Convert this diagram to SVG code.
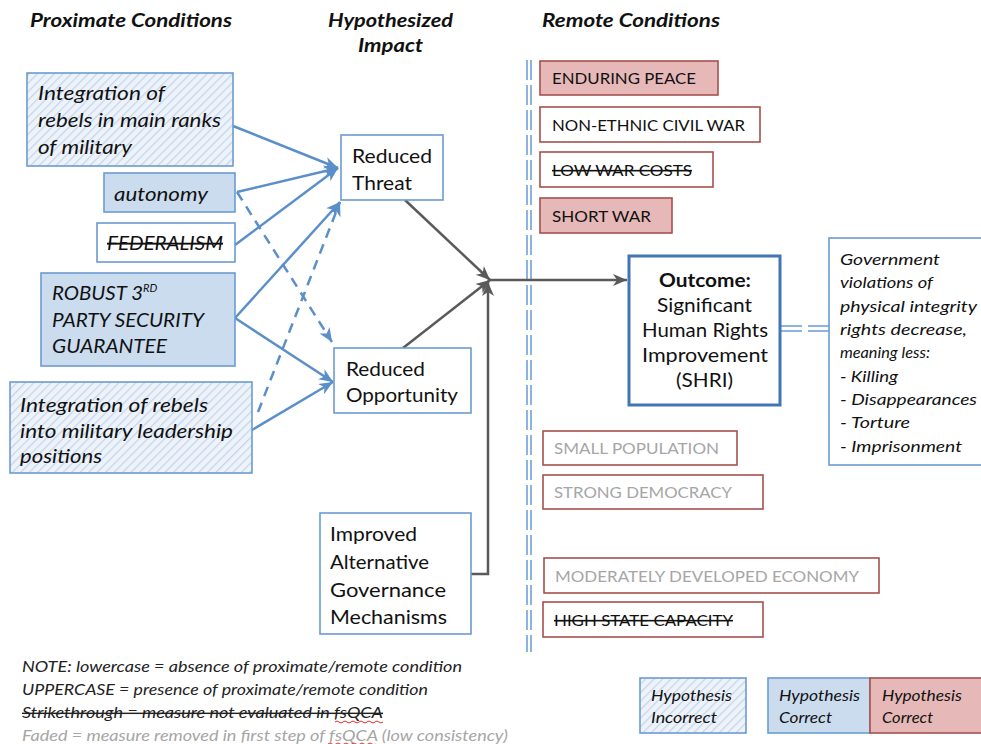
<svg xmlns="http://www.w3.org/2000/svg" width="981" height="744" viewBox="0 0 981 744">
<style>
text{font-family:Lato,"Open Sans","Liberation Sans",sans-serif;fill:#111}
.h{font-size:18px;font-weight:bold;font-style:italic}
.bi{font-size:19px;font-style:italic}
.br{font-size:19px}
.rm{font-size:16px}
.ri{font-size:16px;font-style:italic}
.nt{font-size:14.5px;font-style:italic;fill:#222}
.fd{fill:#a6a6a6}
.st{text-decoration:line-through}
.bx{stroke:#6b9bd0;stroke-width:1.6}
.pk{fill:#e6b9b8;stroke:#a5504d;stroke-width:1.6}
.pw{fill:#fff;stroke:#a5504d;stroke-width:1.6}
.bl{stroke:#5b8fca;stroke-width:2.5;fill:none}
.bd{stroke:#5b8fca;stroke-width:2.5;fill:none;stroke-dasharray:10 7}
.gl{stroke:#5a5a5a;stroke-width:2.5;fill:none}
.dv{stroke:#8db3e2;stroke-width:2;fill:none;stroke-dasharray:20 5}
</style>
<defs>
<pattern id="hatch" width="6" height="6" patternUnits="userSpaceOnUse" patternTransform="rotate(45)">
<rect width="6" height="6" fill="#eef3fa"/>
<line x1="0" y1="0" x2="0" y2="6" stroke="#c3d5ec" stroke-width="2.5"/>
</pattern>
<marker id="ab" markerUnits="userSpaceOnUse" markerWidth="16" markerHeight="14" refX="14" refY="7" orient="auto">
<path d="M0,1 L14,7 L0,13 L4,7 z" fill="#5b8fca"/>
</marker>
<marker id="ag" markerUnits="userSpaceOnUse" markerWidth="16" markerHeight="14" refX="14" refY="7" orient="auto">
<path d="M0,1 L14,7 L0,13 L4,7 z" fill="#5a5a5a"/>
</marker>
</defs>
<rect width="981" height="744" fill="#fff"/>

<g id="headings">
<text class="h" x="30" y="27" textLength="202" lengthAdjust="spacingAndGlyphs">Proximate Conditions</text>
<text class="h" x="328" y="27" textLength="125" lengthAdjust="spacingAndGlyphs">Hypothesized</text>
<text class="h" x="358" y="52" textLength="65" lengthAdjust="spacingAndGlyphs">Impact</text>
<text class="h" x="542" y="27" textLength="178" lengthAdjust="spacingAndGlyphs">Remote Conditions</text>
</g>

<g id="connectors">
<path class="dv" d="M527,60 V652 M531,60 V652"/>
<path class="dv" d="M780,326 H830 M780,331 H830" style="stroke-dasharray:22 6"/>
<path class="bl" d="M233,126 L338,168" marker-end="url(#ab)"/>
<path class="bl" d="M237,192 L338,168" marker-end="url(#ab)"/>
<path class="bl" d="M235,245 L338,168" marker-end="url(#ab)"/>
<path class="bl" d="M235,318 L340,202" marker-end="url(#ab)"/>
<path class="bl" d="M235,318 L333,382" marker-end="url(#ab)"/>
<path class="bl" d="M252,430 L333,382" marker-end="url(#ab)"/>
<path class="bd" d="M237,192 L332,342" marker-end="url(#ab)"/>
<path class="bd" d="M258,412 L340,202" marker-end="url(#ab)"/>
<path class="gl" d="M405,200 L490,280" marker-end="url(#ag)"/>
<path class="gl" d="M403,348 L490,280" marker-end="url(#ag)"/>
<path class="gl" d="M471,574 H488 V282" marker-end="url(#ag)"/>
<path class="gl" d="M488,280 H627" marker-end="url(#ag)"/>
</g>

<g id="int1">
<rect class="bx" x="27" y="73" width="206" height="93" fill="url(#hatch)"/>
<text class="bi" x="38" y="100" textLength="127" lengthAdjust="spacingAndGlyphs">Integration of</text>
<text class="bi" x="38" y="127" textLength="183" lengthAdjust="spacingAndGlyphs">rebels in main ranks</text>
<text class="bi" x="38" y="154" textLength="94" lengthAdjust="spacingAndGlyphs">of military</text>
</g>
<g id="autonomy">
<rect class="bx" x="104" y="173" width="131" height="39" fill="#cbdcef"/>
<text class="bi" x="114" y="201" textLength="94" lengthAdjust="spacingAndGlyphs">autonomy</text>
</g>
<g id="federalism">
<rect class="bx" x="97" y="223" width="138" height="39" fill="#fff"/>
<text class="bi st" x="107" y="250" textLength="116" lengthAdjust="spacingAndGlyphs">FEDERALISM</text>
</g>
<g id="robust">
<rect class="bx" x="41" y="273" width="194" height="93" fill="#cbdcef"/>
<text class="bi" x="52" y="300"><tspan textLength="91" lengthAdjust="spacingAndGlyphs">ROBUST 3</tspan><tspan font-size="11" dy="-8">RD</tspan></text>
<text class="bi" x="52" y="327" textLength="152" lengthAdjust="spacingAndGlyphs">PARTY SECURITY</text>
<text class="bi" x="52" y="353" textLength="115" lengthAdjust="spacingAndGlyphs">GUARANTEE</text>
</g>
<g id="int2">
<rect class="bx" x="10" y="382" width="242" height="91" fill="url(#hatch)"/>
<text class="bi" x="20" y="412" textLength="188" lengthAdjust="spacingAndGlyphs">Integration of rebels</text>
<text class="bi" x="20" y="438" textLength="213" lengthAdjust="spacingAndGlyphs">into military leadership</text>
<text class="bi" x="20" y="463" textLength="82" lengthAdjust="spacingAndGlyphs">positions</text>
</g>

<g id="threat">
<rect class="bx" x="341" y="135" width="102" height="65" fill="#fff"/>
<text class="br" x="352" y="163" textLength="80" lengthAdjust="spacingAndGlyphs">Reduced</text>
<text class="br" x="352" y="190" textLength="60" lengthAdjust="spacingAndGlyphs">Threat</text>
</g>
<g id="opportunity">
<rect class="bx" x="334" y="348" width="137" height="65" fill="#fff"/>
<text class="br" x="346" y="376" textLength="79" lengthAdjust="spacingAndGlyphs">Reduced</text>
<text class="br" x="346" y="402" textLength="112" lengthAdjust="spacingAndGlyphs">Opportunity</text>
</g>
<g id="improved">
<rect class="bx" x="320" y="513" width="151" height="121" fill="#fff"/>
<text class="br" x="330" y="541" textLength="87" lengthAdjust="spacingAndGlyphs">Improved</text>
<text class="br" x="330" y="569" textLength="99" lengthAdjust="spacingAndGlyphs">Alternative</text>
<text class="br" x="330" y="597" textLength="116" lengthAdjust="spacingAndGlyphs">Governance</text>
<text class="br" x="330" y="624" textLength="117" lengthAdjust="spacingAndGlyphs">Mechanisms</text>
</g>

<g id="outcome">
<rect x="629" y="256" width="151" height="149" fill="#fff" stroke="#4275b4" stroke-width="3"/>
<text class="br" x="659" y="287" font-weight="bold" textLength="92" lengthAdjust="spacingAndGlyphs">Outcome:</text>
<text class="br" x="657" y="312" textLength="95" lengthAdjust="spacingAndGlyphs">Significant</text>
<text class="br" x="642" y="337" textLength="126" lengthAdjust="spacingAndGlyphs">Human Rights</text>
<text class="br" x="642" y="362" textLength="126" lengthAdjust="spacingAndGlyphs">Improvement</text>
<text class="br" x="676" y="387" textLength="57" lengthAdjust="spacingAndGlyphs">(SHRI)</text>
</g>
<g id="definition">
<rect class="bx" x="829" y="238" width="160" height="227" fill="#fff"/>
<text class="ri" x="840" y="265" textLength="100" lengthAdjust="spacingAndGlyphs">Government</text>
<text class="ri" x="840" y="288" textLength="93" lengthAdjust="spacingAndGlyphs">violations of</text>
<text class="ri" x="840" y="312" textLength="137" lengthAdjust="spacingAndGlyphs">physical integrity</text>
<text class="ri" x="840" y="335" textLength="127" lengthAdjust="spacingAndGlyphs">rights decrease,</text>
<text class="ri" x="840" y="358" textLength="90" lengthAdjust="spacingAndGlyphs">meaning less:</text>
<text class="ri" x="840" y="382" textLength="58" lengthAdjust="spacingAndGlyphs">- Killing</text>
<text class="ri" x="840" y="405" textLength="137" lengthAdjust="spacingAndGlyphs">- Disappearances</text>
<text class="ri" x="840" y="428" textLength="70" lengthAdjust="spacingAndGlyphs">- Torture</text>
<text class="ri" x="840" y="452" textLength="122" lengthAdjust="spacingAndGlyphs">- Imprisonment</text>
</g>

<g id="enduring-peace">
<rect class="pk" x="540" y="61" width="178" height="34"/>
<text class="rm" x="552" y="84" textLength="144" lengthAdjust="spacingAndGlyphs">ENDURING PEACE</text>
</g>
<g id="non-ethnic">
<rect class="pw" x="540" y="107" width="220" height="35"/>
<text class="rm" x="552" y="131" textLength="193" lengthAdjust="spacingAndGlyphs">NON-ETHNIC CIVIL WAR</text>
</g>
<g id="low-war-costs">
<rect class="pw" x="540" y="152" width="173" height="35"/>
<text class="rm st" x="552" y="176" textLength="140" lengthAdjust="spacingAndGlyphs">LOW WAR COSTS</text>
</g>
<g id="short-war">
<rect class="pk" x="540" y="198" width="132" height="35"/>
<text class="rm" x="552" y="222" textLength="99" lengthAdjust="spacingAndGlyphs">SHORT WAR</text>
</g>
<g id="small-population">
<rect class="pw" x="543" y="431" width="194" height="34"/>
<text class="rm fd" x="554" y="454" textLength="165" lengthAdjust="spacingAndGlyphs">SMALL POPULATION</text>
</g>
<g id="strong-democracy">
<rect class="pw" x="543" y="475" width="220" height="34"/>
<text class="rm fd" x="554" y="498" textLength="178" lengthAdjust="spacingAndGlyphs">STRONG DEMOCRACY</text>
</g>
<g id="economy">
<rect class="pw" x="544" y="558" width="335" height="35"/>
<text class="rm fd" x="555" y="582" textLength="304" lengthAdjust="spacingAndGlyphs">MODERATELY DEVELOPED ECONOMY</text>
</g>
<g id="state-capacity">
<rect class="pw" x="543" y="602" width="220" height="35"/>
<text class="rm st" x="554" y="626" textLength="179" lengthAdjust="spacingAndGlyphs">HIGH STATE CAPACITY</text>
</g>

<g id="notes">
<text class="nt" x="22" y="672" textLength="440" lengthAdjust="spacingAndGlyphs">NOTE: lowercase = absence of proximate/remote condition</text>
<text class="nt" x="22" y="695" textLength="406" lengthAdjust="spacingAndGlyphs">UPPERCASE = presence of proximate/remote condition</text>
<text class="nt st" x="22" y="718" textLength="361" lengthAdjust="spacingAndGlyphs">Strikethrough = measure not evaluated in fsQCA</text>
<text class="nt fd" x="22" y="741" textLength="486" lengthAdjust="spacingAndGlyphs">Faded = measure removed in first step of fsQCA (low consistency)</text>
<path d="M335,722 q2,-2 4,0 t4,0 t4,0 t4,0 t4,0 t4,0 t4,0 t4,0 t4,0 t4,0 t4,0 t4,0" fill="none" stroke="#e03030" stroke-width="1"/>
<path d="M328,744 q2,-2 4,0 t4,0 t4,0 t4,0 t4,0 t4,0 t4,0 t4,0 t4,0 t4,0 t4,0 t4,0" fill="none" stroke="#e03030" stroke-width="1"/>
</g>

<g id="legend">
<rect class="bx" x="640" y="678" width="106" height="55" fill="url(#hatch)"/>
<text class="ri" x="651" y="701" textLength="81" lengthAdjust="spacingAndGlyphs">Hypothesis</text>
<text class="ri" x="651" y="723" textLength="66" lengthAdjust="spacingAndGlyphs">Incorrect</text>
<rect class="bx" x="768" y="678" width="102" height="55" fill="#cbdcef"/>
<text class="ri" x="779" y="701" textLength="81" lengthAdjust="spacingAndGlyphs">Hypothesis</text>
<text class="ri" x="779" y="723" textLength="53" lengthAdjust="spacingAndGlyphs">Correct</text>
<rect class="pk" x="870" y="678" width="120" height="55"/>
<text class="ri" x="882" y="701" textLength="80" lengthAdjust="spacingAndGlyphs">Hypothesis</text>
<text class="ri" x="882" y="723" textLength="51" lengthAdjust="spacingAndGlyphs">Correct</text>
</g>
</svg>
